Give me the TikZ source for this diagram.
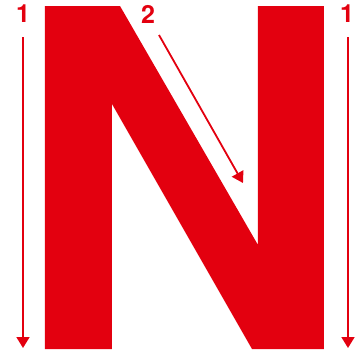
\documentclass[tikz,border=0pt]{standalone}
\usepackage{fontspec}
\setmainfont{TeX Gyre Heros}
\usetikzlibrary{arrows.meta,positioning}
\definecolor{nred}{RGB}{227,0,15}
\tikzset{
  flow/.style={-{Triangle[length=11pt, width=13pt]}, line width=1.8pt, nred},
  num/.style={font=\bfseries\fontsize{25}{25}\selectfont, text=nred, inner sep=0pt},
  letter/.style={fill=nred},
}

\begin{document}
\begin{tikzpicture}[x=1pt, y=-1pt]
  \useasboundingbox (0,0) rectangle (360,354);

  % Letter N
  \fill[letter] (45,6) -- (120,6) -- (258,245) -- (258,6) -- (324,6)
    -- (324,349) -- (252,349) -- (112,104) -- (112,349) -- (45,349) -- cycle;

  % Labels
  \node[num] (oneleft) at (23,14) {1};
  \node[num] (two) at (148,14) {2};
  \node[num] (oneright) at (347,14) {1};

  % Arrow ends
  \coordinate (leftstart) at (23,37);
  \coordinate (leftend) at (23,348);
  \coordinate (diagstart) at (159,35);
  \coordinate (diagend) at (243,183);
  \coordinate (rightstart) at (348,37);
  \coordinate (rightend) at (348,348);

  % Arrows
  \draw[flow] (leftstart) -- (leftend);
  \draw[flow] (diagstart) -- (diagend);
  \draw[flow] (rightstart) -- (rightend);
\end{tikzpicture}
\end{document}
